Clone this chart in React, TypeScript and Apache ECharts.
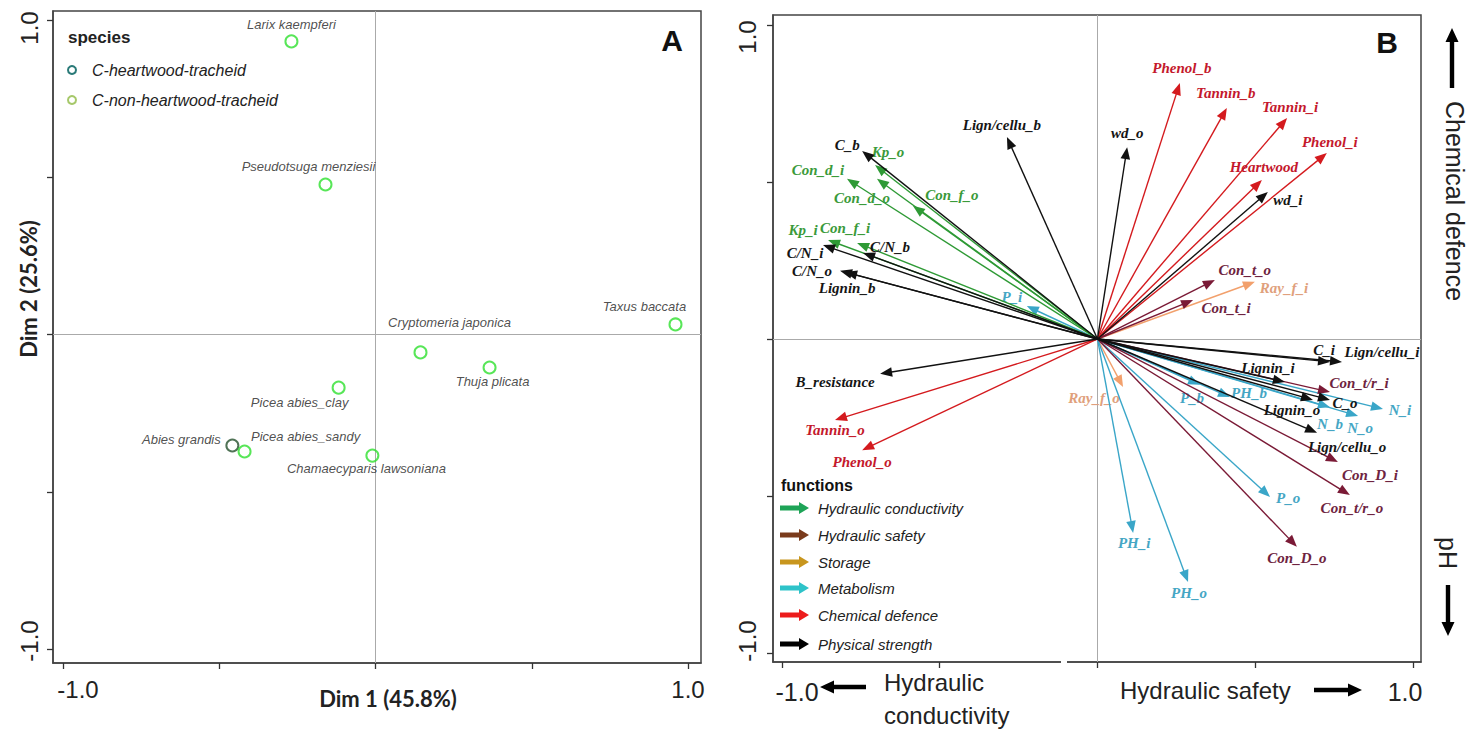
import React, { useEffect, useRef } from "react";
import * as echarts from "echarts";

// ---------- Panel A: species scores ----------
const speciesNames = [
  "Larix kaempferi",
  "Pseudotsuga menziesii",
  "Taxus baccata",
  "Cryptomeria japonica",
  "Thuja plicata",
  "Picea abies_clay",
  "Abies grandis",
  "Picea abies_sandy",
  "Chamaecyparis lawsoniana",
];
const speciesDim1 = [-0.269, -0.16, 0.96, 0.144, 0.365, -0.118, -0.458, -0.419, -0.01];
const speciesDim2 = [0.932, 0.477, 0.032, -0.057, -0.105, -0.169, -0.353, -0.372, -0.385];
const speciesHeartwood = [false, false, false, false, false, false, true, false, false];
const speciesLabelOffset = [
  [0, -17], [-17, -18], [-31, -18], [29, -30], [3, 14], [-39, 15], [-51, -6], [61, -15], [-6, 13],
];
const speciesLegend = ["C-heartwood-tracheid", "C-non-heartwood-tracheid"];

// ---------- Panel B: trait loadings (arrows) ----------
const hcNames = ["Kp_o", "Con_d_i", "Con_d_o", "Con_f_o", "Kp_i", "Con_f_i"];
const hcX = [-0.705, -0.794, -0.699, -0.585, -0.854, -0.762];
const hcY = [0.554, 0.51, 0.51, 0.424, 0.315, 0.306];
const hcOffset = [[13, -13], [-29, -9], [-15, 19], [39, -11], [-25, -10], [-12, -15]];

const hsNames = ["Con_t_o", "Con_t_i", "Con_t/r_i", "Con_D_i", "Con_t/r_o", "Con_D_o"];
const hsX = [0.372, 0.303, 0.737, 0.762, 0.8, 0.632];
const hsY = [0.188, 0.124, -0.169, -0.392, -0.497, -0.662];
const hsOffset = [[30, -10], [33, 8], [29, -9], [32, 13], [2, 13], [0, 11]];

const stNames = ["Ray_f_i", "Ray_f_o"];
const stX = [0.499, 0.081];
const stY = [0.182, -0.153];
const stOffset = [[29, 6], [-29, 11]];

const meNames = ["P_i", "P_b", "PH_b", "N_b", "N_o", "N_i", "P_o", "PH_i", "PH_o"];
const meX = [-0.224, 0.325, 0.42, 0.737, 0.826, 0.905, 0.547, 0.113, 0.287];
const meY = [0.105, -0.146, -0.185, -0.217, -0.245, -0.223, -0.503, -0.618, -0.774];
const meOffset = [[-15, -9], [-8, 13], [19, -4], [0, 17], [2, 12], [17, 1], [18, 1], [1, 10], [1, 11]];

const cdNames = ["Phenol_b", "Tannin_b", "Tannin_i", "Phenol_i", "Heartwood", "Tannin_o", "Phenol_o"];
const cdX = [0.261, 0.41, 0.601, 0.727, 0.521, -0.832, -0.746];
const cdY = [0.815, 0.736, 0.704, 0.592, 0.506, -0.258, -0.354];
const cdOffset = [[2, -15], [-1, -15], [3, -11], [3, -11], [2, -13], [0, 10], [0, 12]];

const psNames = [
  "C_b", "Lign/cellu_b", "C/N_i", "C/N_b", "C/N_o", "Lignin_b", "B_resistance",
  "wd_o", "wd_i", "C_i", "Lign/cellu_i", "Lignin_i", "Lignin_o", "C_o", "Lign/cellu_o",
];
const psX = [-0.746, -0.287, -0.87, -0.743, -0.816, -0.8, -0.689, 0.094, 0.54, 0.737, 0.775, 0.594, 0.683, 0.737, 0.696];
const psY = [0.599, 0.643, 0.299, 0.274, 0.217, 0.213, -0.111, 0.611, 0.468, -0.073, -0.073, -0.137, -0.194, -0.194, -0.299];
const psOffset = [
  [-15, -6], [-5, -12], [-18, 8], [27, -6], [-28, 0], [2, 16], [-45, 8],
  [0, -14], [20, 8], [-6, -12], [40, -10], [-17, -14], [-21, 10], [15, 3], [30, 14],
];

const functionNames = [
  "Hydraulic conductivity",
  "Hydraulic safety",
  "Storage",
  "Metabolism",
  "Chemical defence",
  "Physical strength",
];
const functionLegendColors = ["#1ea457", "#7a3b1c", "#c8961e", "#2ec3c9", "#ec1c1c", "#000000"];

const tickValues = [-1, -0.5, 0, 0.5, 1];
const tickLabelValues = [-1, 1];

const SERIF = '"Liberation Serif", "Times New Roman", serif';
const SANS = '"Liberation Sans", Arial, sans-serif';

function arrowSeries(
  names: string[],
  xs: number[],
  ys: number[],
  offsets: number[][],
  color: string,
  textColor: string
) {
  return {
    type: "custom",
    xAxisIndex: 1,
    yAxisIndex: 1,
    clip: false,
    z: 5,
    silent: true,
    data: xs.map((x, i) => [x, ys[i]]),
    renderItem: (params: any, api: any) => {
      const i = params.dataIndex;
      const o = api.coord([0, 0]);
      const t = api.coord([api.value(0), api.value(1)]);
      const dx = t[0] - o[0];
      const dy = t[1] - o[1];
      const len = Math.hypot(dx, dy) || 1;
      const ux = dx / len;
      const uy = dy / len;
      const hl = 12;
      const hw = 4.8;
      const bx = t[0] - ux * hl;
      const by = t[1] - uy * hl;
      const off = offsets[i];
      return {
        type: "group",
        children: [
          {
            type: "line",
            shape: { x1: o[0], y1: o[1], x2: bx + ux * 2, y2: by + uy * 2 },
            style: { stroke: color, lineWidth: 1.4 },
          },
          {
            type: "polygon",
            shape: {
              points: [
                [t[0], t[1]],
                [bx - uy * hw, by + ux * hw],
                [bx + uy * hw, by - ux * hw],
              ],
            },
            style: { fill: color },
          },
          {
            type: "text",
            x: t[0] + off[0],
            y: t[1] + off[1],
            style: {
              text: names[i],
              fill: textColor,
              font: `italic bold 15px ${SERIF}`,
              align: "center",
              verticalAlign: "middle",
            },
          },
        ],
      };
    },
  };
}

function blockArrow(x0: number, y0: number, x1: number, y1: number, shaftHalf: number, headHalf: number, headLen: number, color: string) {
  const dx = x1 - x0;
  const dy = y1 - y0;
  const len = Math.hypot(dx, dy);
  const ux = dx / len;
  const uy = dy / len;
  const px = -uy;
  const py = ux;
  const bx = x1 - ux * headLen;
  const by = y1 - uy * headLen;
  return {
    type: "polygon",
    z: 50,
    shape: {
      points: [
        [x0 + px * shaftHalf, y0 + py * shaftHalf],
        [bx + px * shaftHalf, by + py * shaftHalf],
        [bx + px * headHalf, by + py * headHalf],
        [x1, y1],
        [bx - px * headHalf, by - py * headHalf],
        [bx - px * shaftHalf, by - py * shaftHalf],
        [x0 - px * shaftHalf, y0 - py * shaftHalf],
      ],
    },
    style: { fill: color },
  };
}

function axisCommon() {
  return {
    type: "value",
    splitLine: { show: false },
    axisLine: { show: true, onZero: false, lineStyle: { color: "#444", width: 1.5 } },
    axisTick: { show: true, customValues: tickValues, length: 6, lineStyle: { color: "#333", width: 1.3 } },
  };
}

// rotated y labels sit a little inside their ticks, as in the reference
function yLabel(shift: number) {
  return {
    customValues: tickLabelValues,
    formatter: (v: number) => (v > 0 ? `{hi|${v.toFixed(1)}}` : `{lo|${v.toFixed(1)}}`),
    fontSize: 24,
    fontFamily: SANS,
    color: "#222",
    rotate: 90,
    margin: 12,
    rich: {
      hi: { fontSize: 24, fontFamily: SANS, color: "#222", padding: [0, shift * 2, 0, 0] },
      lo: { fontSize: 24, fontFamily: SANS, color: "#222", padding: [0, 0, 0, shift * 2] },
    },
  };
}

export default function App() {
  const ref = useRef<HTMLDivElement>(null);

  useEffect(() => {
    if (!ref.current) return;
    const chart = echarts.init(ref.current, null, { renderer: "svg" });

    const scatterData = speciesNames.map((n, i) => ({
      name: n,
      value: [speciesDim1[i], speciesDim2[i]],
      itemStyle: {
        color: "rgba(0,0,0,0)",
        borderColor: speciesHeartwood[i] ? "#24502c" : "#2ee02e",
        borderWidth: 2,
      },
      label: { offset: speciesLabelOffset[i] },
    }));

    const g: any[] = [];
    // Panel A legend
    g.push({
      type: "text",
      x: 68,
      y: 37,
      style: { text: "species", font: `bold 17px ${SANS}`, fill: "#222", verticalAlign: "middle" },
    });
    const speciesLegendColors = ["#2a7a78", "#a6c86a"];
    speciesLegend.forEach((s, i) => {
      g.push({
        type: "circle",
        shape: { cx: 72, cy: 70 + i * 30, r: 4 },
        style: { fill: "none", stroke: speciesLegendColors[i], lineWidth: 2 },
      });
      g.push({
        type: "text",
        x: 92,
        y: 70 + i * 30,
        style: { text: s, font: `italic 16px ${SANS}`, fill: "#222", verticalAlign: "middle" },
      });
    });
    // Panel letters
    g.push({
      type: "text",
      x: 672,
      y: 40,
      style: { text: "A", font: `bold 30px ${SANS}`, fill: "#111", align: "center", verticalAlign: "middle" },
    });
    g.push({
      type: "text",
      x: 1387,
      y: 42,
      style: { text: "B", font: `bold 30px ${SANS}`, fill: "#111", align: "center", verticalAlign: "middle" },
    });
    // Panel A axis titles
    g.push({
      type: "text",
      x: 28,
      y: 289,
      rotation: Math.PI / 2,
      style: { text: "Dim 2 (25.6%)", font: `bold 22px Lato`, fill: "#222", align: "center", verticalAlign: "middle" },
    });
    g.push({
      type: "text",
      x: 388,
      y: 698,
      style: { text: "Dim 1 (45.8%)", font: `bold 22px Lato`, fill: "#222", align: "center", verticalAlign: "middle" },
    });
    // Panel B legend
    g.push({
      type: "text",
      x: 781,
      y: 485,
      style: { text: "functions", font: `bold 16px ${SANS}`, fill: "#111", verticalAlign: "middle" },
    });
    const rowsY = [508, 535, 562, 588, 615, 644];
    functionNames.forEach((f, i) => {
      g.push(blockArrow(780, rowsY[i], 809, rowsY[i], 2.6, 6, 10, functionLegendColors[i]));
      g.push({
        type: "text",
        x: 818,
        y: rowsY[i],
        style: { text: f, font: `italic 15px ${SANS}`, fill: "#222", verticalAlign: "middle" },
      });
    });
    // Panel B outer annotations
    g.push(blockArrow(1452, 88, 1452, 28, 2.2, 6.5, 14, "#000"));
    g.push({
      type: "text",
      x: 1455,
      y: 201,
      rotation: -Math.PI / 2,
      style: { text: "Chemical defence", font: `25px ${SANS}`, fill: "#222", align: "center", verticalAlign: "middle" },
    });
    g.push({
      type: "text",
      x: 1448,
      y: 553,
      rotation: -Math.PI / 2,
      style: { text: "pH", font: `25px ${SANS}`, fill: "#222", align: "center", verticalAlign: "middle" },
    });
    g.push(blockArrow(1448, 585, 1448, 636, 2.2, 6.5, 14, "#000"));
    g.push({
      type: "text",
      x: 797,
      y: 692,
      style: { text: "-1.0", font: `25px ${SANS}`, fill: "#222", align: "center", verticalAlign: "middle" },
    });
    g.push(blockArrow(866, 687, 820, 687, 2.2, 6.5, 14, "#000"));
    g.push({
      type: "text",
      x: 884,
      y: 682,
      style: { text: "Hydraulic", font: `24px ${SANS}`, fill: "#222", verticalAlign: "middle" },
    });
    g.push({
      type: "text",
      x: 884,
      y: 715,
      style: { text: "conductivity", font: `24px ${SANS}`, fill: "#222", verticalAlign: "middle" },
    });
    g.push({
      type: "text",
      x: 1120,
      y: 690,
      style: { text: "Hydraulic safety", font: `24px ${SANS}`, fill: "#222", verticalAlign: "middle" },
    });
    g.push(blockArrow(1314, 690, 1362, 690, 2.2, 6.5, 14, "#000"));
    g.push({
      type: "text",
      x: 1405,
      y: 692,
      style: { text: "1.0", font: `25px ${SANS}`, fill: "#222", align: "center", verticalAlign: "middle" },
    });
    // break in the bottom axis of panel B
    g.push({
      type: "rect",
      z: 60,
      shape: { x: 1061, y: 658, width: 6, height: 9 },
      style: { fill: "#fff" },
    });

    const zeroLine = {
      silent: true,
      symbol: ["none", "none"],
      label: { show: false },
      lineStyle: { color: "#aaa", width: 1, type: "solid" },
      data: [{ xAxis: 0 }, { yAxis: 0 }],
    };

    const option: any = {
      animation: false,
      backgroundColor: "#fff",
      grid: [
        { left: 53, top: 11, width: 648, height: 652, show: true, borderColor: "#444", borderWidth: 1.5, backgroundColor: "transparent" },
        { left: 773, top: 15, width: 648, height: 647, show: true, borderColor: "#444", borderWidth: 1.5, backgroundColor: "transparent" },
      ],
      xAxis: [
        {
          ...axisCommon(),
          gridIndex: 0,
          min: -1.032,
          max: 1.0416,
          axisLabel: {
            customValues: tickLabelValues,
            formatter: (v: number) => (v < 0 ? `{lo|${v.toFixed(1)}}` : `{hi|${v.toFixed(1)}}`),
            fontSize: 24,
            fontFamily: SANS,
            color: "#222",
            margin: 14,
            rich: {
              lo: { fontSize: 24, fontFamily: SANS, color: "#222", padding: [0, 0, 0, 30] },
              hi: { fontSize: 24, fontFamily: SANS, color: "#222", padding: [0, 0, 0, 0] },
            },
          },
        },
        {
          ...axisCommon(),
          gridIndex: 1,
          min: -1.0285,
          max: 1.0254,
          axisLabel: { show: false },
        },
      ],
      yAxis: [
        {
          ...axisCommon(),
          gridIndex: 0,
          min: -1.0445,
          max: 1.0286,
          axisLabel: yLabel(8),
        },
        {
          ...axisCommon(),
          gridIndex: 1,
          min: -1.0287,
          max: 1.0318,
          axisLabel: { ...yLabel(12), margin: 14 },
        },
      ],
      series: [
        {
          type: "scatter",
          xAxisIndex: 0,
          yAxisIndex: 0,
          symbol: "circle",
          symbolSize: 12,
          silent: true,
          z: 5,
          data: scatterData,
          label: {
            show: true,
            formatter: "{b}",
            position: "inside",
            fontStyle: "italic",
            fontSize: 13,
            fontFamily: SANS,
            color: "#222",
          },
          markLine: zeroLine,
        },
        {
          type: "scatter",
          xAxisIndex: 1,
          yAxisIndex: 1,
          data: [],
          silent: true,
          z: 1,
          markLine: zeroLine,
        },
        arrowSeries(stNames, stX, stY, stOffset, "#f2a06c", "#e0a07c"),
        arrowSeries(meNames, meX, meY, meOffset, "#3aa6c8", "#45a6c4"),
        arrowSeries(hsNames, hsX, hsY, hsOffset, "#7a1a36", "#6e2340"),
        arrowSeries(cdNames, cdX, cdY, cdOffset, "#d41a1e", "#c4182c"),
        arrowSeries(hcNames, hcX, hcY, hcOffset, "#2e9a35", "#3a9a3a"),
        arrowSeries(psNames, psX, psY, psOffset, "#111111", "#151515"),
      ],
      graphic: g,
    };

    chart.setOption(option);
    return () => chart.dispose();
  }, []);

  return (
    <div
      ref={ref}
      style={{ position: "absolute", left: 0, top: 0, width: 1481, height: 730, background: "#fff" }}
    />
  );
}
